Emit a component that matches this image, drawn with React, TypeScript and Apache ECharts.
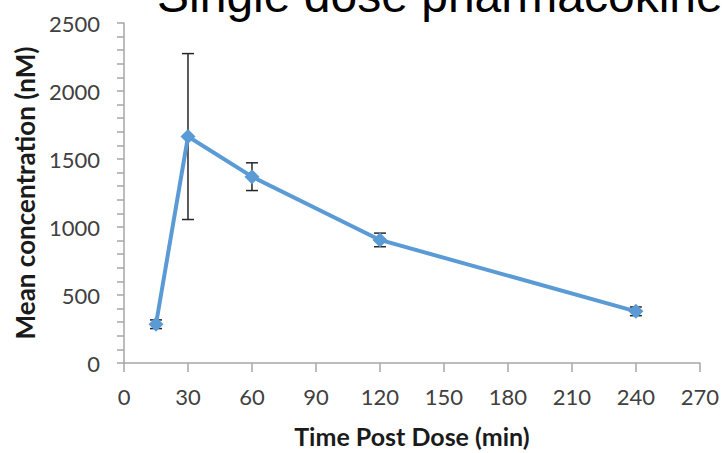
import React, { useEffect, useRef } from "react";
import * as echarts from "echarts";

const titleText = "Single dose pharmacokinetics";
const xName = "Time Post Dose (min)";
const yName = "Mean concentration (nM)";
const times = [15, 30, 60, 120, 240];
const means = [285, 1665, 1370, 905, 380];
const errors = [32, 610, 102, 50, 32];

export default function App() {
  const ref = useRef<HTMLDivElement>(null);
  useEffect(() => {
    document.body.style.margin = "0";
    const chart = echarts.init(ref.current!, null, { renderer: "svg" });
    const lineData = times.map((t, i) => [t, means[i]]);
    const errData = times.map((t, i) => [t, means[i] - errors[i], means[i] + errors[i]]);
    const font = "Lato";
    chart.setOption({
      animation: false,
      backgroundColor: "#ffffff",
      graphic: [
        {
          type: "text",
          left: 157,
          top: -29,
          z: 100,
          style: {
            text: titleText,
            font: '48px "Liberation Sans"',
            fill: "#000000",
          },
        },
      ],
      grid: { left: 124, right: 22, top: 23, bottom: 89, containLabel: false },
      xAxis: {
        type: "value",
        min: 0,
        max: 270,
        interval: 30,
        name: xName,
        nameLocation: "middle",
        nameGap: 60,
        nameTextStyle: { fontFamily: font, fontWeight: "bold", fontSize: 25, color: "#1a1a1a" },
        axisLine: { show: true, lineStyle: { color: "#a6a6a6", width: 1.5 } },
        axisTick: { show: true, length: 9, lineStyle: { color: "#a6a6a6", width: 1.5 } },
        splitLine: { show: false },
        axisLabel: { fontFamily: font, fontSize: 22, color: "#404040", margin: 22 },
      },
      yAxis: {
        type: "value",
        min: 0,
        max: 2500,
        interval: 500,
        name: yName,
        nameLocation: "middle",
        nameGap: 85,
        nameTextStyle: { fontFamily: font, fontWeight: "bold", fontSize: 26, color: "#1a1a1a" },
        axisLine: { show: true, lineStyle: { color: "#a6a6a6", width: 1.5 } },
        axisTick: { show: true, length: 7, lineStyle: { color: "#a6a6a6", width: 1.5 } },
        minorTick: { show: true, splitNumber: 5, length: 7, lineStyle: { color: "#a6a6a6", width: 1.5 } },
        splitLine: { show: false },
        axisLabel: {
          fontFamily: font,
          fontSize: 22,
          color: "#404040",
          margin: 24,
          formatter: (v: number) => String(v),
        },
      },
      series: [
        {
          type: "custom",
          z: 1,
          data: errData,
          renderItem: (params: any, api: any) => {
            const x = api.value(0);
            const lo = api.coord([x, api.value(1)]);
            const hi = api.coord([x, api.value(2)]);
            const hw = 6;
            const style = { stroke: "#262626", lineWidth: 1.5 };
            return {
              type: "group",
              children: [
                { type: "line", shape: { x1: lo[0], y1: lo[1], x2: hi[0], y2: hi[1] }, style },
                { type: "line", shape: { x1: lo[0] - hw, y1: lo[1], x2: lo[0] + hw, y2: lo[1] }, style },
                { type: "line", shape: { x1: hi[0] - hw, y1: hi[1], x2: hi[0] + hw, y2: hi[1] }, style },
              ],
            };
          },
        },
        {
          type: "line",
          z: 5,
          data: lineData,
          symbol: "diamond",
          symbolSize: 15,
          itemStyle: { color: "#5b9bd5" },
          lineStyle: { color: "#5b9bd5", width: 4 },
        },
      ],
    });
    return () => chart.dispose();
  }, []);
  return <div ref={ref} style={{ width: 722, height: 453 }} />;
}
